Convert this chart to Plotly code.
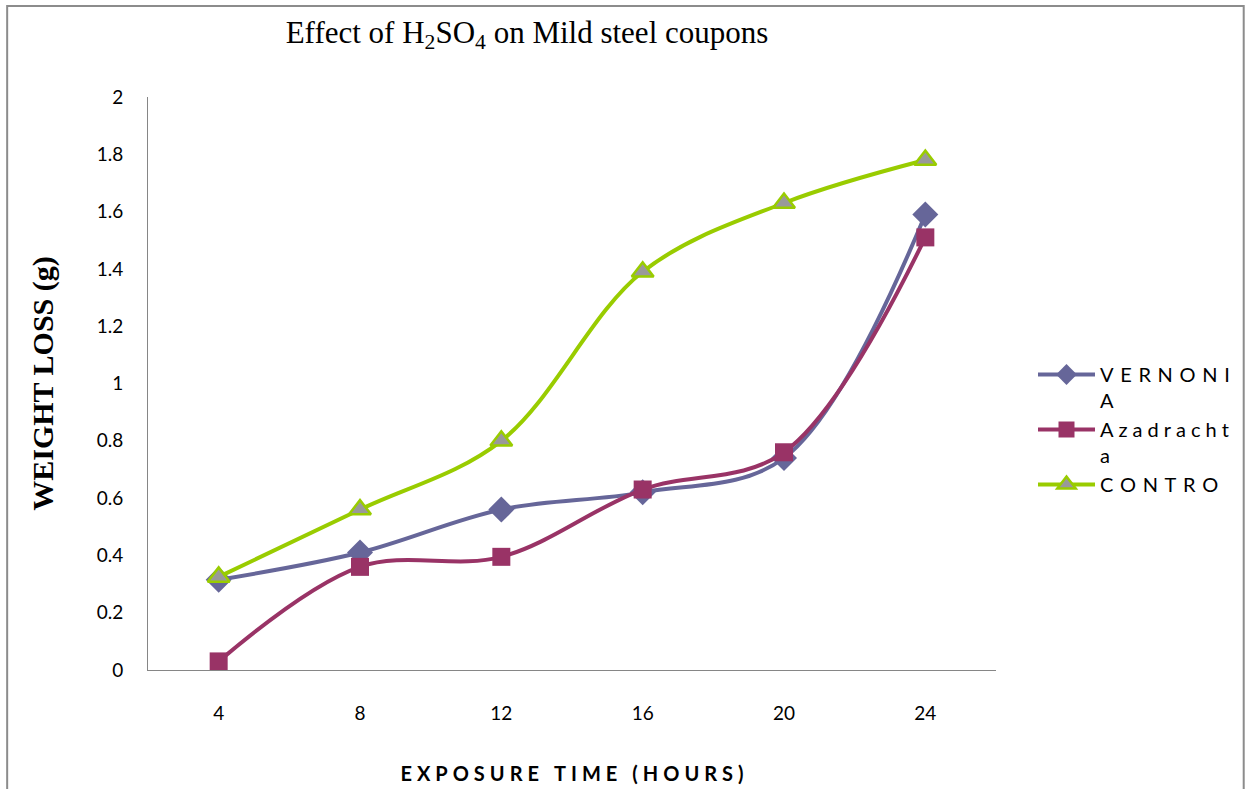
import plotly.graph_objects as go

# Exposure time categories (hours) and weight loss (g) per inhibitor
hours = ["4", "8", "12", "16", "20", "24"]
vernonia = [0.315, 0.41, 0.56, 0.62, 0.74, 1.59]
azadrachta = [0.03, 0.36, 0.395, 0.63, 0.76, 1.51]
control = [0.325, 0.56, 0.80, 1.39, 1.63, 1.78]

y_ticks = [0, 0.2, 0.4, 0.6, 0.8, 1, 1.2, 1.4, 1.6, 1.8, 2]
y_tick_text = ["0", "0.2", "0.4", "0.6", "0.8", "1", "1.2", "1.4", "1.6", "1.8", "2"]

W, H = 1246, 789
L, R, T, B = 148, 997, 97, 670  # plot area in pixels

SANS = "Lato, Open Sans, sans-serif"
SERIF = "Liberation Serif, Times New Roman, serif"


def px_x(p):
    return (p - L) / (R - L)


def px_y(p):
    return (B - p) / (B - T)


def spaced(s, sep):
    return sep.join(s)


WIDE = "\u2004"    # three-per-em space for tracked capitals
MEDIUM = "\u2005"  # four-per-em space
EM = "\u2003"

fig = go.Figure()

fig.add_trace(go.Scatter(
    x=hours, y=vernonia, name=spaced("VERNONI", WIDE) + "<br>A",
    mode="lines+markers",
    line=dict(color="#666699", width=4, shape="spline", smoothing=1),
    marker=dict(symbol="diamond", size=20, color="#666699"),
))
fig.add_trace(go.Scatter(
    x=hours, y=azadrachta, name=spaced("Azadracht", MEDIUM) + "<br>a",
    mode="lines+markers",
    line=dict(color="#993366", width=4, shape="spline", smoothing=1),
    marker=dict(symbol="square", size=18, color="#993366"),
))
fig.add_trace(go.Scatter(
    x=hours, y=control, name=spaced("CONTRO", WIDE),
    mode="lines+markers",
    line=dict(color="#99CC00", width=4, shape="spline", smoothing=1),
    marker=dict(symbol="triangle-up", size=19, color="#999999",
                line=dict(color="#99CC00", width=2.5)),
))

x_title = EM.join(spaced(w, MEDIUM) for w in "EXPOSURE TIME (HOURS)".split())

fig.update_layout(
    width=W, height=H,
    margin=dict(l=L, r=W - R, t=T, b=H - B),
    paper_bgcolor="white", plot_bgcolor="white",
    showlegend=True,
    legend=dict(
        x=px_x(1033), y=px_y(355), xanchor="left", yanchor="top",
        valign="top", itemwidth=57, tracegroupgap=0,
        font=dict(family=SANS, size=20, color="black"),
        bgcolor="rgba(0,0,0,0)",
    ),
    xaxis=dict(
        type="category", range=[-0.5, 5.5], automargin=False,
        showline=True, linecolor="#868686", linewidth=1,
        showgrid=False, zeroline=False, ticks="",
        ticklabelstandoff=26,
        tickfont=dict(family=SANS, size=19, color="black"),
        title=dict(
            text="<b>" + x_title + "</b>",
            font=dict(family=SANS, size=20, color="black"),
            standoff=44,
        ),
    ),
    yaxis=dict(
        range=[0, 2], tickvals=y_ticks, ticktext=y_tick_text, automargin=False,
        showline=True, linecolor="#868686", linewidth=1,
        showgrid=False, zeroline=False, ticks="",
        ticklabelstandoff=20,
        tickfont=dict(family=SANS, size=19, color="black"),
        title=dict(
            text="<b>WEIGHT LOSS (g)</b>",
            font=dict(family=SERIF, size=30, color="black"),
            standoff=34,
        ),
    ),
    title=dict(
        text="Effect of H<sub>2</sub>SO<sub>4</sub> on Mild steel coupons",
        font=dict(family=SERIF, size=31, color="black"),
        x=527 / W, xanchor="center", xref="container",
        y=1 - 32 / H, yanchor="middle", yref="container",
    ),
    shapes=[
        dict(type="rect", xref="paper", yref="paper",
             x0=px_x(7), x1=px_x(1245), y0=px_y(6), y1=px_y(820),
             line=dict(color="#8c8c8c", width=2), fillcolor="rgba(0,0,0,0)",
             layer="below"),
    ],
)

fig.write_html("out.html")
